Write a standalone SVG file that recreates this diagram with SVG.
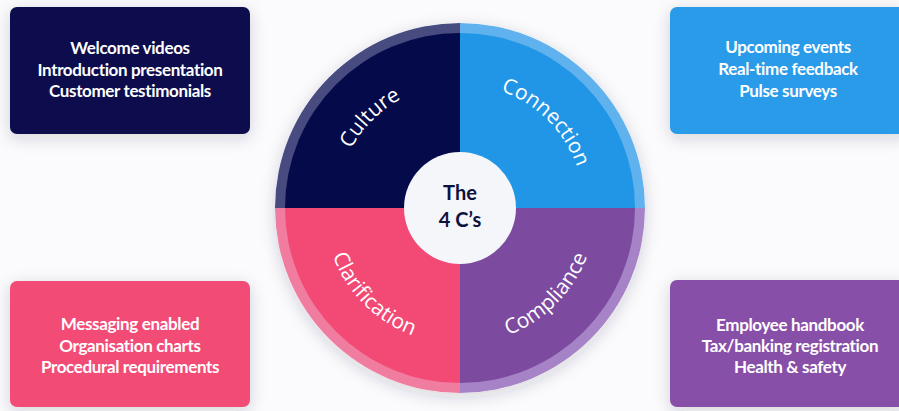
<svg xmlns="http://www.w3.org/2000/svg" width="899" height="411" viewBox="0 0 899 411">
<defs>
<filter id="sh" x="-30%" y="-30%" width="160%" height="160%">
<feDropShadow dx="0" dy="4" stdDeviation="8" flood-color="#1a2040" flood-opacity="0.18"/>
</filter>
<path id="pCul" d="M336 208 A124 124 0 0 1 460 84"/>
<path id="pCon" d="M460 84 A124 124 0 0 1 584 208"/>
<path id="pCla" d="M324 208 A136 136 0 0 0 460 344"/>
<path id="pCom" d="M460 344 A136 136 0 0 0 596 208"/>
</defs>
<style>
.box text{font-family:Lato,"Liberation Sans",sans-serif;font-weight:700;font-size:17px;fill:#fff;text-anchor:middle;letter-spacing:-0.35px}
.q{font-family:"Open Sans","Liberation Sans",sans-serif;font-size:21px;fill:#fff;text-anchor:middle}
.ctr{font-family:Lato,"Liberation Sans",sans-serif;font-weight:700;font-size:20px;fill:#0b1240;text-anchor:middle}
</style>
<rect width="899" height="411" fill="#fbfbfd"/>
<g id="box-culture" class="box">
<rect x="10" y="7" width="240" height="127" rx="7" fill="#070d4d" filter="url(#sh)"/>
<text x="130" y="54">Welcome videos</text>
<text x="130" y="76">Introduction presentation</text>
<text x="130" y="97">Customer testimonials</text>
</g>
<g id="box-connection" class="box">
<rect x="670" y="7" width="236" height="127" rx="7" fill="#2a9be8" filter="url(#sh)"/>
<text x="788" y="53">Upcoming events</text>
<text x="788" y="75">Real-time feedback</text>
<text x="788" y="97">Pulse surveys</text>
</g>
<g id="box-clarification" class="box">
<rect x="10" y="281" width="240" height="126" rx="7" fill="#f24c76" filter="url(#sh)"/>
<text x="130" y="330">Messaging enabled</text>
<text x="130" y="352">Organisation charts</text>
<text x="130" y="373">Procedural requirements</text>
</g>
<g id="box-compliance" class="box">
<rect x="670" y="280" width="236" height="127" rx="7" fill="#8850a8" filter="url(#sh)"/>
<text x="790" y="331">Employee handbook</text>
<text x="790" y="352">Tax/banking registration</text>
<text x="790" y="373">Health &amp; safety</text>
</g>
<g id="wheel">
<circle cx="460" cy="208" r="185" fill="#fff" filter="url(#sh)"/>
<g id="q-culture">
<path d="M460 208 L275 208 A185 185 0 0 1 460 23 Z" fill="#484b7f"/>
<path d="M460 208 L285 208 A175 175 0 0 1 460 33 Z" fill="#050a4a"/>
<text class="q"><textPath href="#pCul" startOffset="50%">Culture</textPath></text>
</g>
<g id="q-connection">
<path d="M460 208 L460 23 A185 185 0 0 1 645 208 Z" fill="#5fb2ed"/>
<path d="M460 208 L460 33 A175 175 0 0 1 635 208 Z" fill="#2196e6"/>
<text class="q"><textPath href="#pCon" startOffset="50%">Connection</textPath></text>
</g>
<g id="q-compliance">
<path d="M460 208 L645 208 A185 185 0 0 1 460 393 Z" fill="#a683c6"/>
<path d="M460 208 L635 208 A175 175 0 0 1 460 383 Z" fill="#7c4a9f"/>
<text class="q"><textPath href="#pCom" startOffset="50%">Compliance</textPath></text>
</g>
<g id="q-clarification">
<path d="M460 208 L460 393 A185 185 0 0 1 275 208 Z" fill="#f07ca0"/>
<path d="M460 208 L460 383 A175 175 0 0 1 285 208 Z" fill="#f24a75"/>
<text class="q"><textPath href="#pCla" startOffset="50%">Clarification</textPath></text>
</g>
</g>
<g id="center">
<circle cx="460" cy="208" r="56" fill="#f4f6fa"/>
<text class="ctr" x="460" y="200">The</text>
<text class="ctr" x="460" y="227">4 C’s</text>
</g>
</svg>
